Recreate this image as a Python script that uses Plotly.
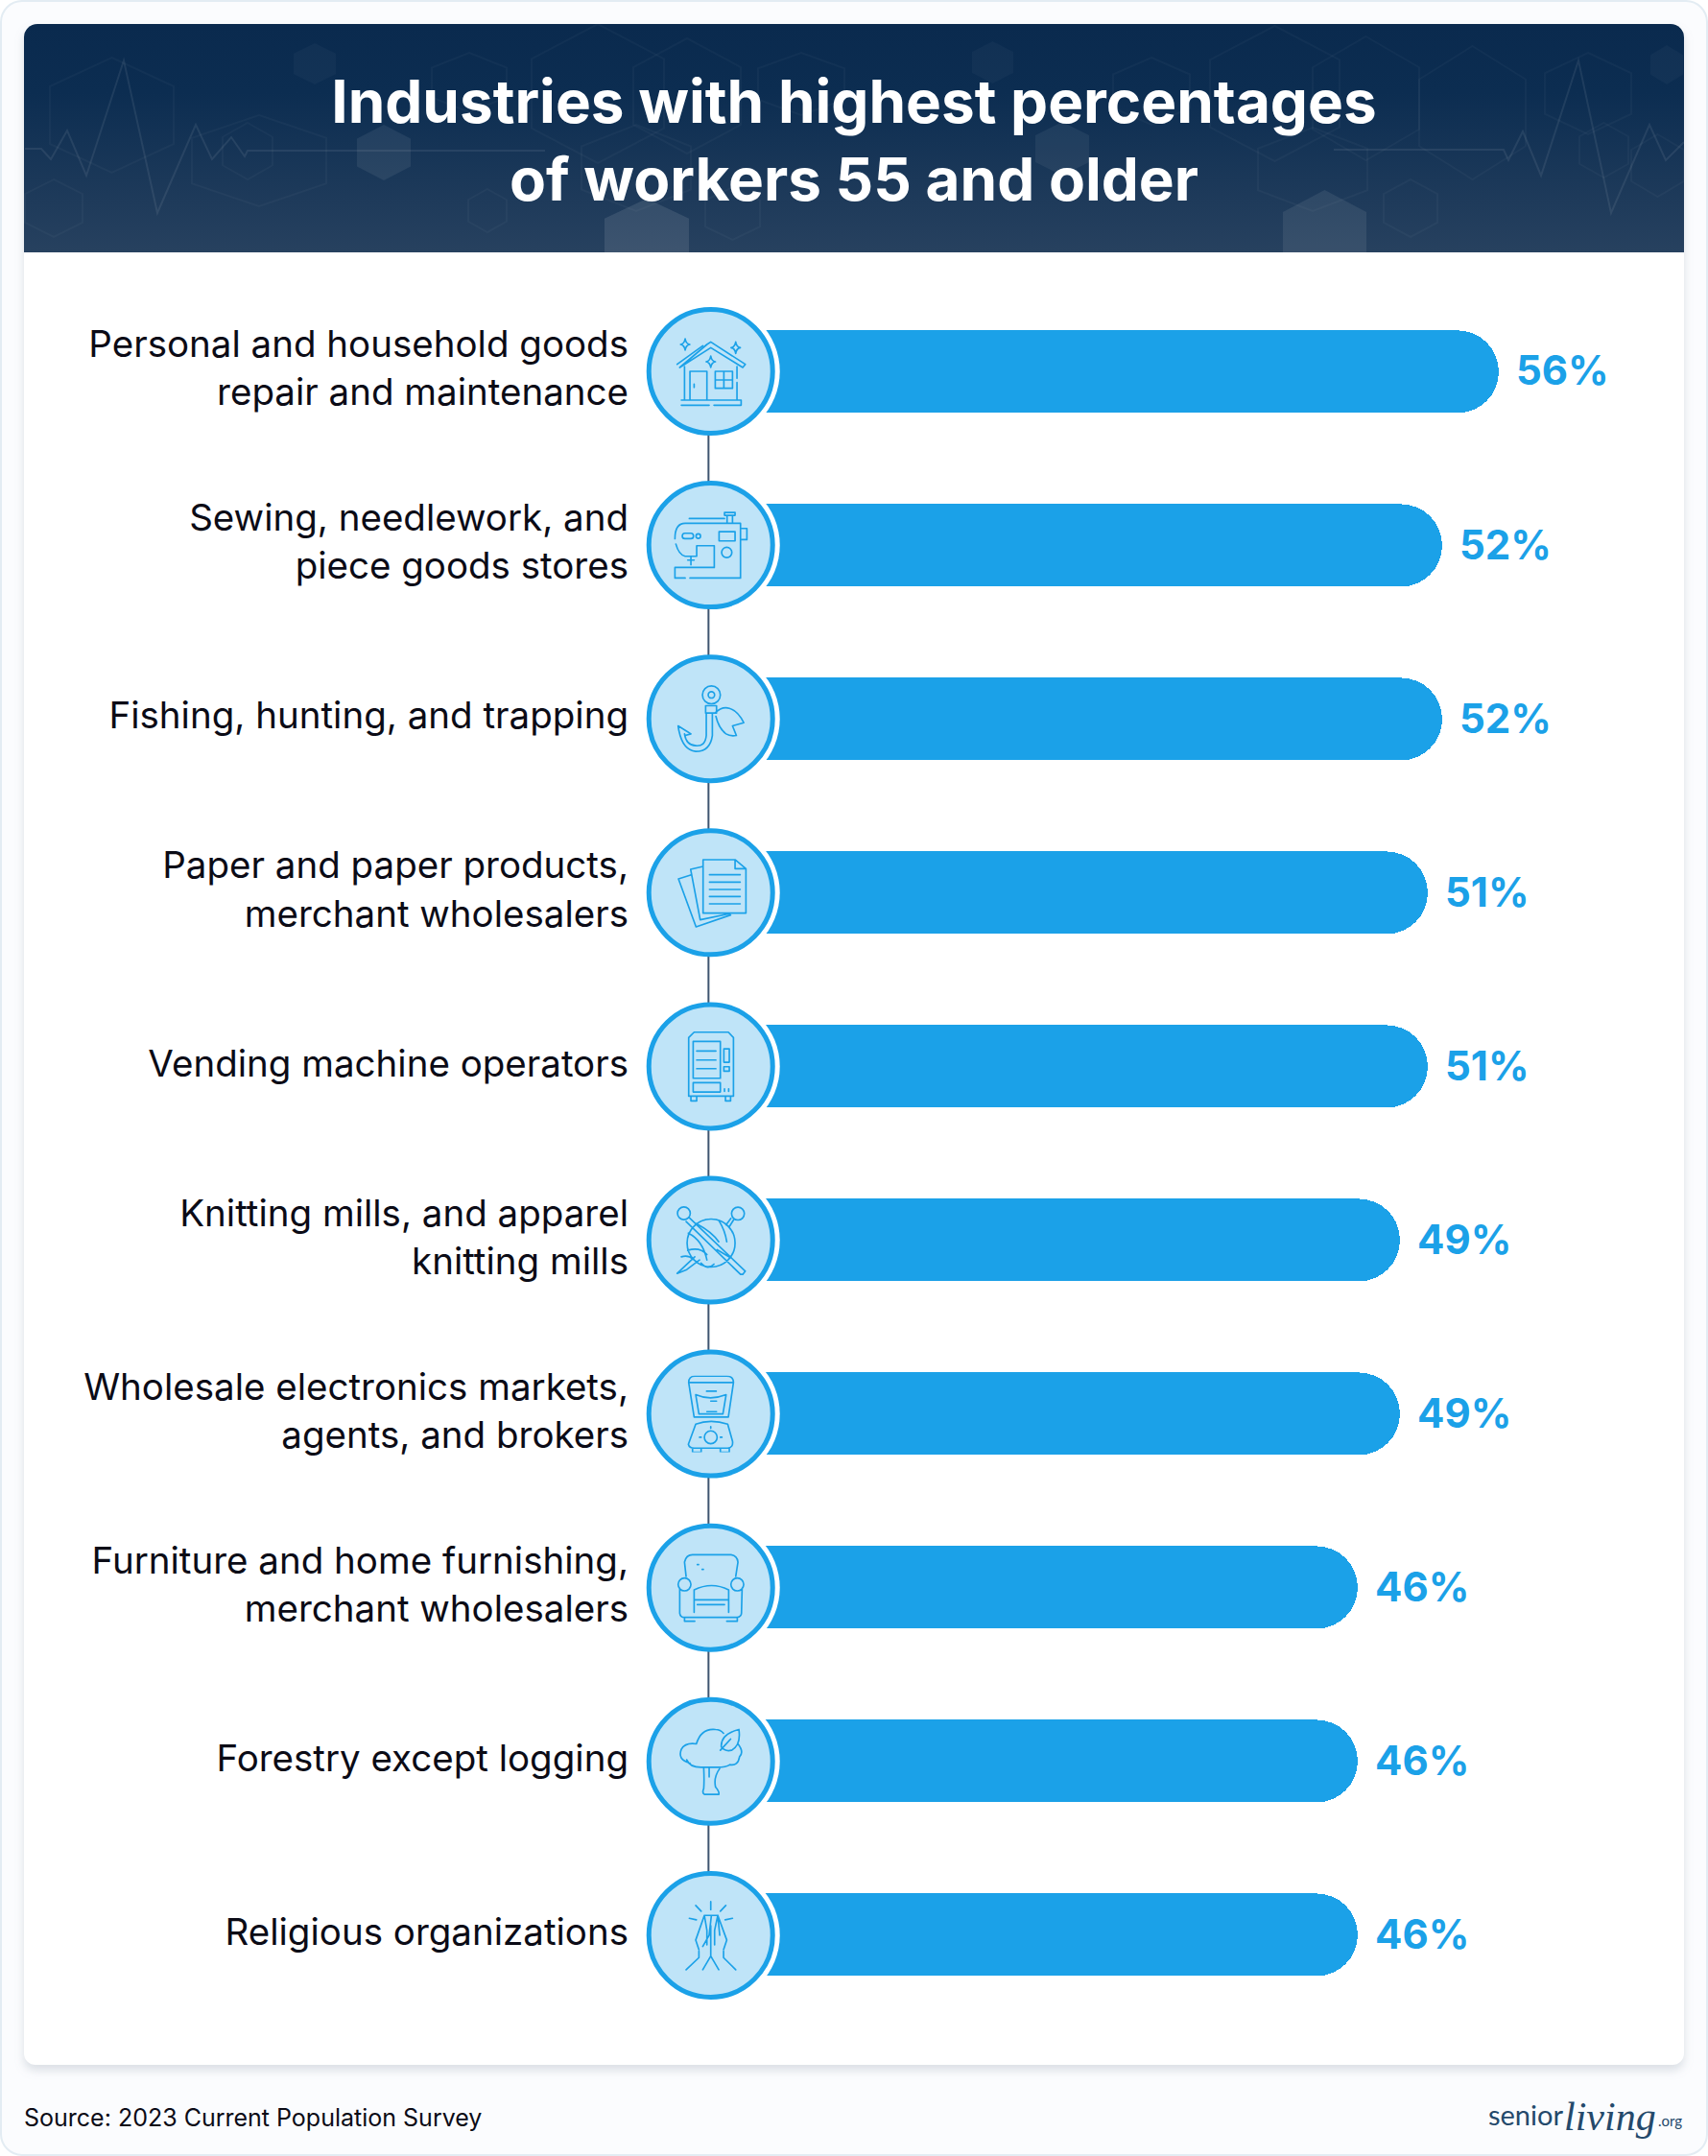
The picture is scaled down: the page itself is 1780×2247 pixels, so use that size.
import base64
import plotly.graph_objects as go

# ---------- data ----------
categories = [
    "Personal and household goods<br>repair and maintenance",
    "Sewing, needlework, and<br>piece goods stores",
    "Fishing, hunting, and trapping",
    "Paper and paper products,<br>merchant wholesalers",
    "Vending machine operators",
    "Knitting mills, and apparel<br>knitting mills",
    "Wholesale electronics markets,<br>agents, and brokers",
    "Furniture and home furnishing,<br>merchant wholesalers",
    "Forestry except logging",
    "Religious organizations",
]
values = [56, 52, 52, 51, 51, 49, 49, 46, 46, 46]
title_text = "Industries with highest percentages<br>of workers 55 and older"
source_text = "Source: 2023 Current Population Survey"

# ---------- style ----------
W, H = 1780, 2247
BLUE = "#1ba1e8"
PALE = "#bfe4f8"
INK = "#0b0b16"
FONT = "Inter"
PX_PER_PCT = 14.75
ROW = 181.1
X0_PX = 736
Y0_PX = 387
ICON_PX = 80
CIRCLE_X = 0.32
LINE_X = 0.16


def hexagon(x0, y0, x1, y1):
    xm = (x0 + x1) / 2
    d = (y1 - y0) * 0.25
    return f"M{xm} {y0}L{x1} {y0+d}L{x1} {y1-d}L{xm} {y1}L{x0} {y1-d}L{x0} {y0+d}Z"


filled = [(306, 45, 350, 88, .03), (372, 130, 428, 188, .07), (630, 207, 718, 290, .10),
          (1337, 198, 1424, 290, .08), (1079, 127, 1135, 183, .06),
          (1720, 47, 1754, 88, .03), (1013, 43, 1056, 87, .03)]
outlined = [(554, 25, 692, 170), (1261, 27, 1396, 168), (1368, 38, 1479, 167), (1479, 48, 1590, 187),
            (1311, 133, 1425, 220), (1646, 128, 1697, 185), (1442, 187, 1498, 247), (52, 60, 181, 180),
            (232, 128, 284, 187), (450, 55, 528, 117), (26, 187, 86, 247), (488, 197, 528, 242),
            (660, 40, 772, 160), (790, 55, 880, 120), (1160, 60, 1240, 130), (200, 120, 340, 215),
            (1610, 55, 1700, 140), (606, 130, 720, 220), (735, 195, 792, 250), (1700, 140, 1755, 205)]
ecg_l = [(26, 155), (43, 155), (53, 166), (70, 136), (90, 183), (129, 63), (164, 222), (204, 130),
         (221, 166), (241, 143), (255, 163), (258, 157), (568, 157)]
ecg_r = [(1390, 156), (1567, 156), (1572, 167), (1587, 137), (1606, 183), (1645, 63), (1679, 222),
         (1719, 130), (1736, 167), (1755, 148)]


def poly(pts):
    return "M" + "L".join(f"{x} {y}" for x, y in pts)


hex_svg = "".join(f'<path d="{hexagon(a,b,c,d)}" fill="#fff" fill-opacity="{o}"/>' for a, b, c, d, o in filled)
hex_svg += "".join(f'<path d="{hexagon(a,b,c,d)}" fill="none" stroke="#fff" stroke-opacity=".03" stroke-width="2"/>'
                   for a, b, c, d in outlined)
ecg_svg = (f'<path d="{poly(ecg_l)}" fill="none" stroke="#fff" stroke-opacity=".08" stroke-width="2"/>'
           f'<path d="{poly(ecg_r)}" fill="none" stroke="#fff" stroke-opacity=".08" stroke-width="2"/>')

background = f'''<svg xmlns="http://www.w3.org/2000/svg" width="{W}" height="{H}" viewBox="0 0 {W} {H}">
<defs>
<linearGradient id="g" x1="0" y1="0" x2="0" y2="1">
<stop offset="0" stop-color="#0a2a4e"/><stop offset=".3" stop-color="#0c2d51"/><stop offset="1" stop-color="#27415f"/>
</linearGradient>
<filter id="s" x="-5%" y="-5%" width="110%" height="110%"><feGaussianBlur stdDeviation="5"/></filter>
<clipPath id="hc"><path d="M25 263V39a14 14 0 0 1 14-14H1741a14 14 0 0 1 14 14V263Z"/></clipPath>
</defs>
<rect x="1" y="1" width="1778" height="2245" rx="22" fill="#fbfcfe" stroke="#e3ecf3" stroke-width="2"/>
<rect x="25" y="31" width="1730" height="2127" rx="12" fill="#8a97a6" fill-opacity=".28" filter="url(#s)"/>
<rect x="25" y="25" width="1730" height="2127" rx="12" fill="#fff"/>
<g clip-path="url(#hc)"><rect x="25" y="25" width="1730" height="238" fill="url(#g)"/>{hex_svg}{ecg_svg}</g>
</svg>'''


def uri(svg):
    return "data:image/svg+xml;base64," + base64.b64encode(svg.encode()).decode()


def star(x, y, r):
    k = r * 0.32
    return (f"M{x} {y-r}Q{x+k*.4} {y-k*.4} {x+r*.8} {y}Q{x+k*.4} {y+k*.4} {x} {y+r}"
            f"Q{x-k*.4} {y+k*.4} {x-r*.8} {y}Q{x-k*.4} {y-k*.4} {x} {y-r}Z")


def circ(x, y, r):
    return f"M{x-r} {y}a{r} {r} 0 1 0 {2*r} 0a{r} {r} 0 1 0 {-2*r} 0Z"


icons = [
    # house
    "M-105 -22L-25 -80M-12 -84L0 -92L108 -22L100 -12L0 -74L-97 -12Z M-82 -15V90M82 -15V22M82 35V90 M-65 0H-12V90H-65Z"
    "M14 0H68V53H14Z M41 0V53M14 27H68 M-92 90H95V106H10M-5 106H-92Z M-52 40V50"
    + star(-80, -84, 18) + star(78, -74, 18) + star(0, -30, 18),
    # sewing machine
    "M-112 -20Q-112 -68 -80 -68H93V103H-65 M-80 103H-112V70H11V2H-44V35H-80Q-100 30 -109 -3"
    "M-67 -83H43 M43 -102H76V-93H43Z M51 -93V-68M68 -93V-68"
    "M-81 -37H-62Q-54 -37 -54 -28Q-54 -20 -62 -20H-81Q-89 -20 -89 -28Q-89 -37 -81 -37Z"
    + circ(-39, -28, 7) + "M26 -42H76V-13H26Z M93 -52H113V-17H93" + circ(50, 23, 16)
    + "M-62 35V62M-72 47H-52",
    # hook
    circ(2, -75, 28) + circ(2, -75, 10)
    + "M-16 -41H18V-18H-16Z M-14 -18V52Q-17 87 -47 84Q-77 82 -82 47 M5 -18V52Q-2 102 -47 102Q-92 97 -102 22L-62 47L-80 52"
    "M13 -18Q35 -40 58 -33Q85 -25 103 12L68 22L80 52Q60 55 48 47Q25 30 16 -8",
    # paper
    "M-24 -103H76L110 -75V64H-24Z M76 -103V-75H110 M-4 -56H92M-4 -33H92M-4 -10H92M-4 12H92M-4 35H92"
    "M-24 -82L-63 -73L-33 85L62 65 M-63 -55L-101 -43L-46 107L62 70",
    # vending machine
    "M-69 -90L-52 -107H55L71 -90V93H-69Z M-55 -78H30V37H-55Z M-44 -48H16M-44 -20H16M-44 7H16"
    "M41 -55H58V-13H41Z M41 1H58V15H41Z M-55 51H30V80H-55Z M43 70V78M56 70V78"
    "M-62 93V108H-44V93 M46 93V108H62V93",
    # yarn
    circ(1, 9, 75) + circ(-84, -84, 20) + circ(85, -83, 20)
    + "M-67 -70L108 97L100 107H93L-77 -58 M63 -68L48 -48 M-50 52L-105 104L-75 92L-35 62 M73 -66L58 -42"
    "M-70 -22Q-25 0 -12 62 M-45 -52Q5 -25 25 5 M25 -62Q45 -30 50 5 M-72 32Q-35 20 -12 45 M20 30Q45 45 62 55"
    "M-92 52Q-70 45 -55 60 M-30 72Q-10 95 10 75",
    # blender
    "M-69 -98Q-69 -118 -50 -118H50Q71 -118 71 -98L55 10H-52Z M-69 -98H71 M-47 -60Q-2 -40 48 -60L38 0H-37Z"
    "M-13 -71H17M0 -40H18M-12 -7H18 M-47 32Q0 15 53 32L68 85Q71 105 53 107H-52Q-67 107 -70 95Z"
    + circ(0, 73, 20) + "M-35 73H-30M30 73H35M0 40V45 M-57 107V120H-30V107 M30 107V120H58V107",
    # armchair
    "M-77 -35L-82 -80Q-77 -103 -57 -103H63Q83 -100 85 -80L78 -35"
    + circ(-82, -10, 20) + circ(83, -10, 20)
    + "M-97 2V80Q-95 93 -82 93H83Q96 90 96 80L98 2 M-52 7Q3 -20 56 7V77 M-52 7V77 M-52 38H56 M-42 53H43"
    "M-82 93V105H-50M50 105H83V93 M-42 -72H-38M-27 -57H-23",
    # tree
    "M-65 5Q-105 -5 -92 -38Q-80 -60 -45 -55Q-30 -105 15 -100Q30 -100 40 -88 M85 -55Q105 -30 90 -15Q85 15 60 10"
    "Q45 20 10 18H-25Q-65 20 -75 -5 M-22 20Q-20 60 -22 85Q-28 98 -20 103H25Q28 95 15 80Q8 50 28 22 M-5 20V48"
    "M33 -45Q30 -85 88 -100Q95 -50 65 -35Q45 -30 33 -45Z M30 -35L62 -70",
    # praying hands
    "M-20 -62L-47 15L-37 45 M-37 50V70L-77 108 M-20 -62H2L-5 0L-25 35 M-20 -62L-12 -15 M22 -62L50 15L40 45 M40 50V70L78 108"
    "M2 -62H22L28 0 M22 -62L12 -15 M0 -30V65L-25 108 M0 65L25 108 M-12 -15V30 M12 -15V30"
    "M0 -105V-80 M-47 -93L-30 -75 M47 -93L30 -75 M-67 -53L-45 -48 M68 -53L45 -48",
]


def icon_svg(path):
    return (f'<svg xmlns="http://www.w3.org/2000/svg" width="{ICON_PX}" height="{ICON_PX}" viewBox="-120 -120 240 240">'
            f'<path d="{path}" fill="none" stroke="{BLUE}" stroke-width="5" stroke-linecap="round" stroke-linejoin="round"/></svg>')


rows = list(range(len(categories)))
plot_top = Y0_PX - ROW / 2
plot_bottom = plot_top + ROW * len(categories)
plot_right = 1740
x_max = (plot_right - X0_PX) / PX_PER_PCT

fig = go.Figure()
fig.add_bar(x=values, y=rows, orientation="h", width=86 / ROW, marker=dict(color=BLUE, line=dict(width=0)),
            hoverinfo="skip")
fig.add_scatter(x=[CIRCLE_X] * len(rows), y=rows, mode="markers", cliponaxis=False,
                marker=dict(size=144, color="#ffffff", line=dict(width=0)), hoverinfo="skip")
fig.add_scatter(x=[LINE_X] * len(rows), y=rows, mode="lines", cliponaxis=False,
                line=dict(color="#3f5570", width=2), hoverinfo="skip")
fig.add_scatter(x=[CIRCLE_X] * len(rows), y=rows, mode="markers", cliponaxis=False,
                marker=dict(size=129, color=PALE, line=dict(width=5, color=BLUE)), hoverinfo="skip")

images = [dict(source=uri(background), xref="paper", yref="paper", x=0, y=1, sizex=1, sizey=1,
               xanchor="left", yanchor="top", sizing="stretch", layer="below")]
for i, p in zip(rows, icons):
    images.append(dict(source=uri(icon_svg(p)), xref="paper", yref="paper",
                       x=(X0_PX + CIRCLE_X * PX_PER_PCT) / W, y=1 - (Y0_PX + i * ROW) / H,
                       sizex=ICON_PX / W, sizey=ICON_PX / H, xanchor="center", yanchor="middle",
                       sizing="stretch", layer="above"))

annotations = [dict(x=v, y=i, xref="x", yref="y", text=f"<b>{v}%</b>", showarrow=False, xanchor="left",
                    yanchor="middle", xshift=16, yshift=1, font=dict(family=FONT, size=42, color=BLUE))
               for i, v in zip(rows, values)]
annotations += [
    dict(x=25 / W, y=1 - 2207 / H, xref="paper", yref="paper", text=source_text, showarrow=False, xanchor="left",
         yanchor="middle", xshift=-2, font=dict(family=FONT, size=25, color=INK)),
    dict(x=1551 / W, y=1 - 2203 / H, xref="paper", yref="paper", text="senior", showarrow=False, xanchor="left",
         yanchor="middle", xshift=-2, font=dict(family="Lato", size=29, color="#24496b")),
    dict(x=1630 / W, y=1 - 2206 / H, xref="paper", yref="paper", text="<i>living</i>", showarrow=False, xanchor="left",
         yanchor="middle", xshift=-2, font=dict(family="Liberation Serif", size=42, color="#24496b")),
    dict(x=1728 / W, y=1 - 2210 / H, xref="paper", yref="paper", text=".org", showarrow=False, xanchor="left",
         yanchor="middle", xshift=-2, font=dict(family="Lato", size=15, color="#24496b")),
]

fig.update_layout(
    width=W, height=H, autosize=False, margin=dict(l=0, r=0, t=0, b=0),
    paper_bgcolor="rgba(0,0,0,0)", plot_bgcolor="rgba(0,0,0,0)", showlegend=False, bargap=0,
    barcornerradius=43,
    title=dict(text=f"<b>{title_text}</b>", x=0.5, xref="paper", xanchor="center", y=1 - 128 / H, yref="paper",
               yanchor="middle", font=dict(family=FONT, size=62, color="#ffffff")),
    xaxis=dict(domain=[X0_PX / W, plot_right / W], range=[0, x_max], visible=False, fixedrange=True),
    yaxis=dict(domain=[1 - plot_bottom / H, 1 - plot_top / H], range=[len(rows) - 0.5, -0.5], tickmode="array",
               tickvals=[r - 0.018 for r in rows], ticktext=categories, ticks="", showgrid=False, zeroline=False,
               showline=False, ticklabelstandoff=80, automargin=False,
               tickfont=dict(family=FONT, size=38.5, color=INK), fixedrange=True),
    images=images, annotations=annotations, hovermode=False,
)

fig.write_html("out.html", config=dict(displayModeBar=False),
               post_script="document.body.style.margin='0';document.body.style.overflow='hidden';")
